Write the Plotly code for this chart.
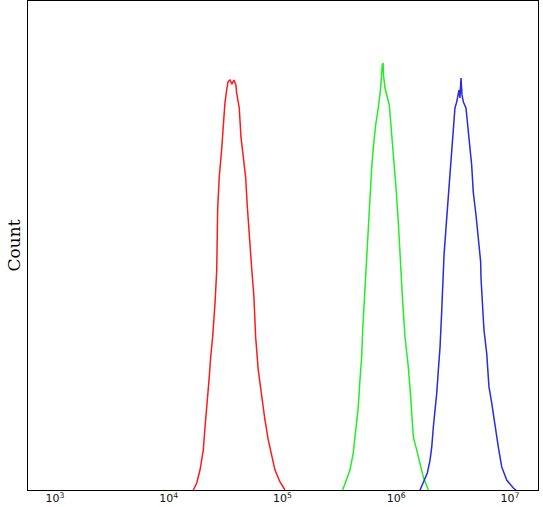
import plotly.graph_objects as go

# Histogram traces: log10 fluorescence intensity and cell counts
red_log10 = [4.216, 4.246, 4.275, 4.304, 4.319, 4.339, 4.354, 4.369, 4.386, 4.407, 4.422, 4.430,
             4.444, 4.465, 4.480, 4.494, 4.509, 4.521, 4.538, 4.556, 4.573, 4.591, 4.597, 4.620,
             4.635, 4.655, 4.676, 4.691, 4.708, 4.729, 4.749, 4.764, 4.787, 4.817, 4.846, 4.875,
             4.905, 4.934, 4.978, 5.022]
red_count = [0, 3.6, 10.2, 20.4, 32.2, 44.5, 56.2, 68, 78.2, 95.6, 112.5, 143.1,
             160, 173.8, 189.1, 197.8, 204.5, 208.6, 209.6, 207.5, 209.6, 207, 203, 195.3,
             180.5, 170.2, 160, 144.7, 129.3, 113.5, 98.7, 78.2, 61.3, 47.5, 35.8, 25.6,
             16.9, 10.2, 4.1, 0]

green_log10 = [5.529, 5.564, 5.593, 5.622, 5.646, 5.666, 5.681, 5.696, 5.705, 5.719, 5.734, 5.747,
               5.754, 5.769, 5.784, 5.798, 5.819, 5.842, 5.863, 5.877, 5.884, 5.888, 5.901, 5.939,
               5.960, 5.980, 5.998, 6.018, 6.033, 6.039, 6.057, 6.077, 6.106, 6.127, 6.150, 6.180,
               6.209, 6.238, 6.282]
green_count = [0, 5.1, 10.2, 18.9, 30.7, 42.4, 56.2, 68, 81.8, 97.1, 112.5, 127.8,
               133.9, 149.3, 164.6, 174.8, 186.6, 195.3, 205.5, 217.3, 218.3, 212.1, 205.5, 196.8,
               183, 167.7, 154.4, 137, 120.1, 112.5, 95.6, 78.2, 62.9, 47.5, 27.1, 20.4,
               13.8, 6.6, 0]

blue_log10 = [6.209, 6.238, 6.273, 6.297, 6.312, 6.326, 6.341, 6.356, 6.370, 6.385, 6.400, 6.414,
              6.420, 6.437, 6.452, 6.466, 6.479, 6.496, 6.516, 6.531, 6.552, 6.560, 6.569, 6.578,
              6.590, 6.613, 6.628, 6.648, 6.663, 6.677, 6.701, 6.721, 6.742, 6.745, 6.756, 6.771,
              6.795, 6.815, 6.839, 6.868, 6.897, 6.927, 6.971, 7.029, 7.053]
blue_count = [0, 3.6, 8.7, 15.3, 22, 32.2, 39.4, 49.6, 61.3, 73.1, 92, 112.5,
              120.1, 133.9, 145.7, 157.4, 171.3, 183, 195.3, 198.3, 204.5, 200.4, 210.6, 202,
              198.3, 195.3, 185.1, 174.8, 166.1, 152.3, 140.6, 128.8, 116.6, 108.4, 98.7, 81.8,
              70, 52.7, 44.5, 32.2, 22, 11.8, 5.1, 1, 0]

tick_values = [1e3, 1e4, 1e5, 1e6, 1e7]
tick_labels = ["10<sup>3</sup>", "10<sup>4</sup>", "10<sup>5</sup>", "10<sup>6</sup>", "10<sup>7</sup>"]

series = [
    (red_log10, red_count, "#ff1a1a"),
    (green_log10, green_count, "#22ee22"),
    (blue_log10, blue_count, "#2a2ae0"),
]

fig = go.Figure()
for lx, cnt, col in series:
    fig.add_trace(go.Scatter(
        x=[10 ** v for v in lx], y=cnt, mode="lines",
        line=dict(color=col, width=1.5), showlegend=False, hoverinfo="skip"))

fig.update_layout(
    width=543, height=507,
    margin=dict(l=28, r=5, t=1, b=17),
    paper_bgcolor="white", plot_bgcolor="white",
    xaxis=dict(type="log", range=[2.763, 7.246], tickvals=tick_values, ticktext=tick_labels,
               showgrid=False, zeroline=False, showline=True, linecolor="black", linewidth=1.2,
               mirror=True, ticks="", automargin=False, ticklabelstandoff=-2,
               tickfont=dict(family="DejaVu Sans", size=11, color="#111")),
    yaxis=dict(range=[0, 250], showgrid=False, zeroline=False, showline=True, linecolor="black",
               linewidth=1.2, mirror=True, showticklabels=False, ticks="", automargin=False),
    annotations=[dict(text="Count", xref="paper", yref="paper", x=-15 / 510, y=0.5,
                      xanchor="center", yanchor="middle", textangle=-90, showarrow=False,
                      font=dict(family="DejaVu Serif", size=17, color="black"))],
)

fig.write_html("out.html", config={"displayModeBar": False, "staticPlot": True})

# remove the default page margin so the figure sits at the window's top-left corner
with open("out.html", encoding="utf-8") as f:
    html = f.read()
if "<body>" in html:
    html = html.replace("<body>", '<body style="margin:0;padding:0;overflow:hidden">', 1)
else:
    html = html.replace("</head>", "<style>body{margin:0;padding:0;overflow:hidden}</style></head>", 1)
with open("out.html", "w", encoding="utf-8") as f:
    f.write(html)
